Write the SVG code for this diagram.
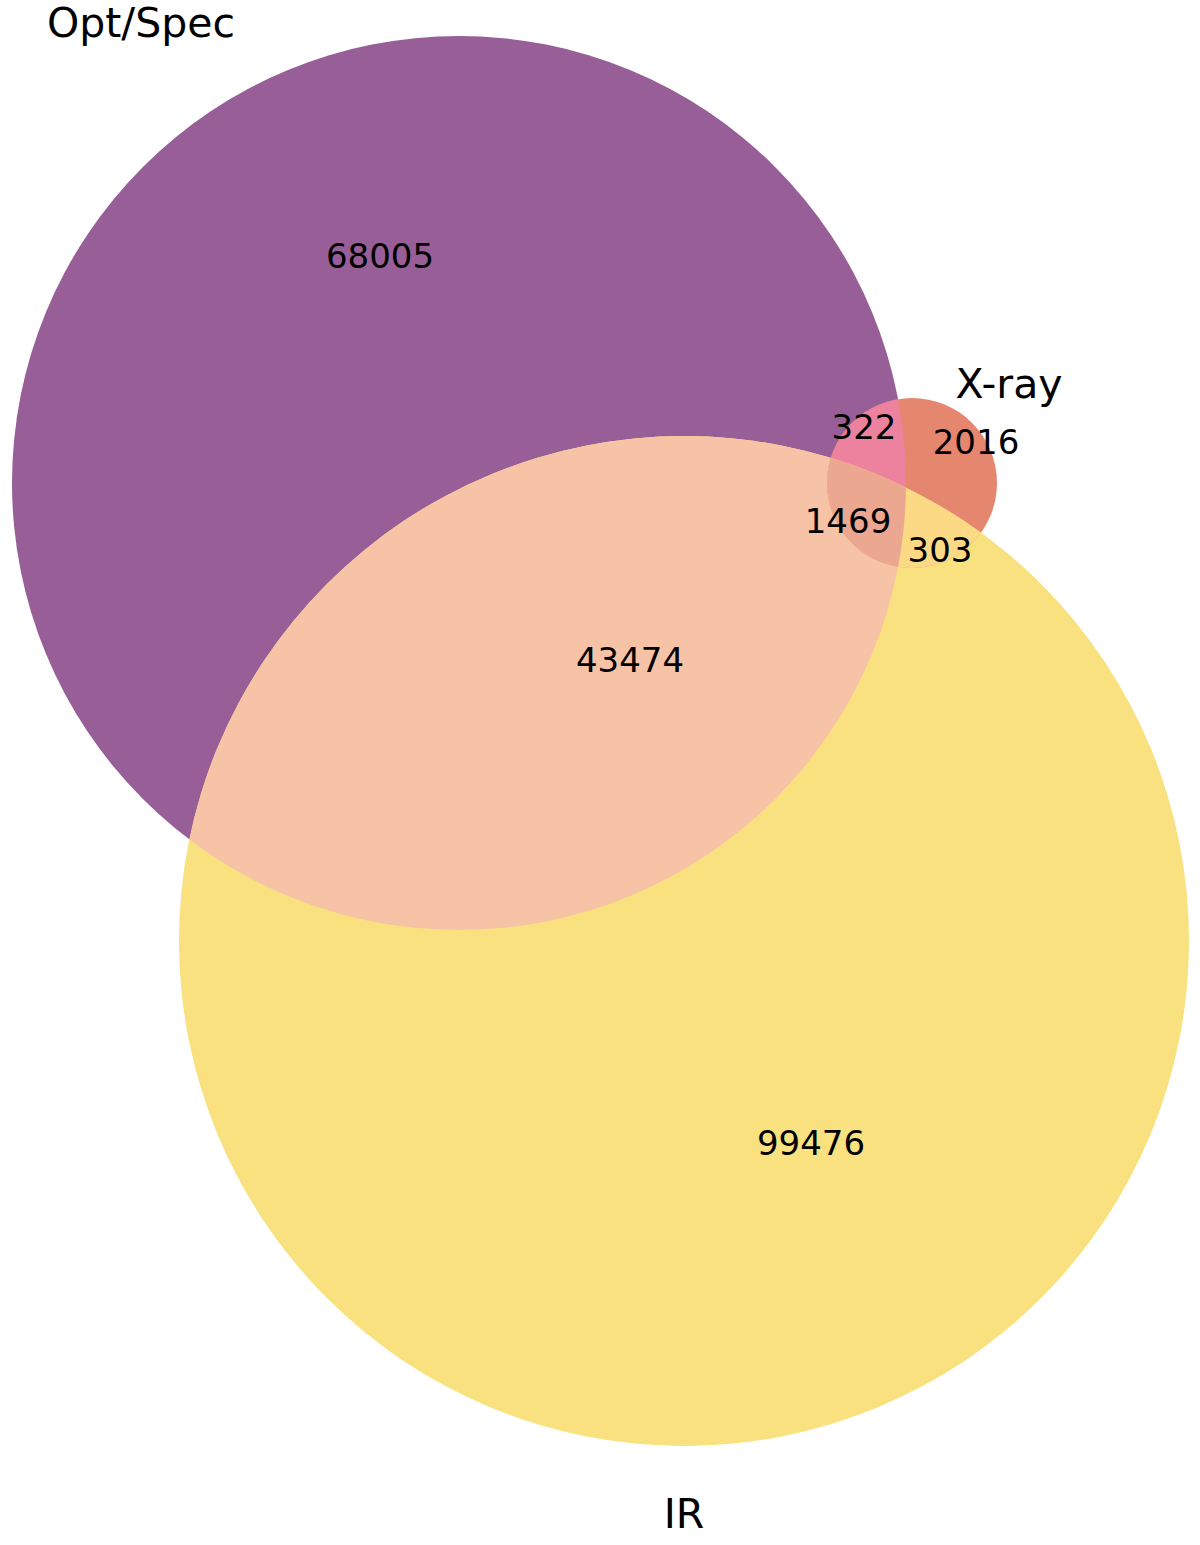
<svg xmlns="http://www.w3.org/2000/svg" width="1200" height="1545" viewBox="0 0 1200 1545">
<style>
.num{font-family:"DejaVu Sans",sans-serif;font-size:34px;fill:#000;text-anchor:middle}
.lab{font-family:"DejaVu Sans",sans-serif;font-size:41px;fill:#000;text-anchor:middle}
</style>
<defs>
<clipPath id="cOpt"><circle cx="459" cy="483" r="447"/></clipPath>
<clipPath id="cIR"><circle cx="684" cy="941" r="505"/></clipPath>
<clipPath id="cX"><circle cx="912" cy="483" r="85"/></clipPath>
</defs>
<rect width="1200" height="1545" fill="#fff"/>
<g id="opt"><circle cx="459" cy="483" r="447" fill="#985E97"/></g>
<g id="ir"><circle cx="684" cy="941" r="505" fill="#F8E17E"/></g>
<g id="opt-ir"><circle cx="684" cy="941" r="505" fill="#F7C3A6" clip-path="url(#cOpt)"/></g>
<g id="xray"><circle cx="912" cy="483" r="85" fill="#E5866F"/></g>
<g id="x-opt" clip-path="url(#cX)"><circle cx="459" cy="483" r="447" fill="#EC829E"/></g>
<g id="x-ir" clip-path="url(#cX)"><circle cx="684" cy="941" r="505" fill="#FCDA85"/></g>
<g id="x-opt-ir" clip-path="url(#cX)"><g clip-path="url(#cOpt)"><circle cx="684" cy="941" r="505" fill="#EBA78F"/></g></g>
<g id="connectors"></g>
<g id="texts">
<text class="num" x="380" y="268">68005</text>
<text class="num" x="630" y="672">43474</text>
<text class="num" x="811" y="1155">99476</text>
<text class="num" x="864" y="439">322</text>
<text class="num" x="976" y="454">2016</text>
<text class="num" x="848" y="533">1469</text>
<text class="num" x="940" y="562">303</text>
<text class="lab" x="141" y="37">Opt/Spec</text>
<text class="lab" x="1009" y="398">X-ray</text>
<text class="lab" x="684" y="1528">IR</text>
</g>
</svg>
